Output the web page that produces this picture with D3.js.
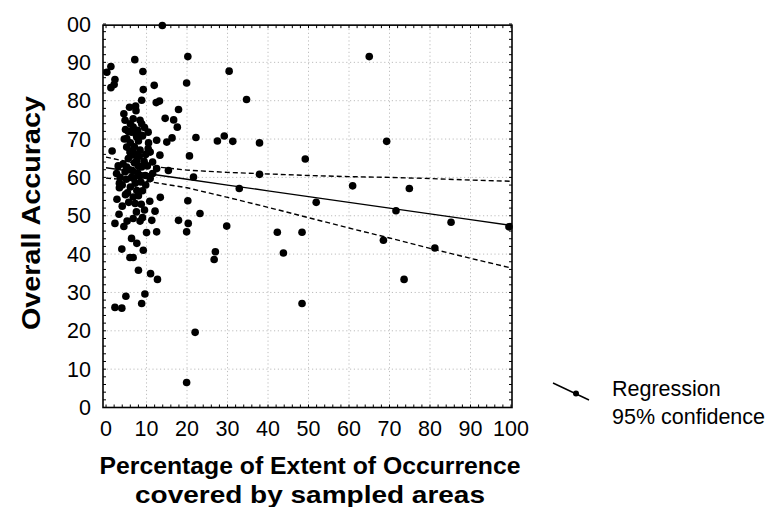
<!DOCTYPE html>
<html><head><meta charset="utf-8">
<script src="https://cdn.jsdelivr.net/npm/d3@7"></script>
<style>
html,body{margin:0;padding:0;background:#fff;}
svg{display:block;font-family:"Liberation Sans",Arial,sans-serif;}
</style></head>
<body>
<svg id="chart" width="766" height="507"></svg>
<script>
// ---- data ----
const pctCovered = [
 0.2,1.2,2.2,2.0,1.2,7.1,9.1,9.2,11.9,8.8,12.4,13.2,17.9,19.9,20.2,13.9,
 4.4,5.8,7.3,7.4,4.7,6.7,8.4,6.7,8.8,14.6,16.7,17.6,
 6.3,10.4,5.1,7.6,12.5,15.0,16.3,22.2,
 1.5,5.1,5.9,8.4,10.4,10.9,13.3,20.6,5.5,7.6,5.1,8.8,2.6,12.5,15.4,21.6,
 6.0,7.0,8.0,9.0,4.8,7.8,9.5,6.2,7.0,8.2,9.4,6.5,7.8,4.2,10.2,11.5,3.5,5.0,6.8,8.6,10.9,9.7,4.0,6.0,7.6,9.0,5.3,8.0,3.3,3.3,6.7,2.7,7.2,10.8,13.4,12.1,20.2,
 4.5,5.5,6.0,7.5,8.8,6.5,7.3,8.0,5.8,6.3,7.2,8.3,4.7,9.8,5.6,4.8,8.7,9.5,7.5,4.0,3.0,10.5,11.5,9.8,
 3.2,2.2,4.4,5.2,6.7,8.4,9.0,11.3,10.0,12.5,6.3,7.6,9.2,3.9,5.9,6.7,8.0,11.0,12.7,4.9,9.6,2.2,3.9,8.8,19.9,22.0,
 17.9,19.9,20.3,23.2,29.8,30.4,34.7,27.5,29.2,31.3,37.9,49.2,37.9,32.9,42.3,48.4,43.8,27.0,26.7,48.4,51.9,
 65.0,69.3,60.9,74.9,71.6,85.2,99.5,68.5,81.2,73.6
];
const overallAccuracy = [
 87.4,88.9,85.5,84.2,83.4,90.7,87.6,82.9,84.0,80.1,79.5,79.9,77.7,84.6,91.5,99.6,
 76.6,78.3,78.6,77.4,74.9,75.3,74.9,73.1,74.0,75.4,75.0,73.1,
 71.8,71.8,70.1,70.5,69.7,69.2,70.3,70.4,
 66.9,67.9,66.6,67.1,67.5,66.6,65.8,65.6,64.9,64.5,62.7,62.7,61.0,62.3,61.8,60.1,
 69.0,68.0,69.5,70.8,72.5,72.3,73.0,65.8,63.8,65.5,64.2,61.8,61.2,63.5,63.0,61.0,60.0,59.5,59.8,58.8,59.7,60.5,58.0,57.5,56.6,56.5,56.0,55.2,58.5,57.3,54.9,54.3,53.2,53.8,54.8,51.2,53.9,
 70.0,72.0,74.0,71.0,71.0,67.0,66.0,63.0,62.0,60.0,58.5,60.3,61.5,58.0,53.5,55.5,53.0,51.5,51.0,52.5,63.0,69.0,64.0,66.0,
 50.4,48.0,47.2,48.6,49.3,48.6,49.5,48.8,45.6,45.8,44.1,42.8,41.0,41.3,39.1,39.1,35.8,34.9,33.4,29.0,29.6,26.1,25.9,27.1,6.5,19.6,
 48.8,45.8,48.0,50.6,47.3,87.7,80.3,69.5,70.8,69.4,69.0,64.8,60.8,57.1,45.7,45.7,40.3,40.6,38.6,27.1,53.5,
 91.5,69.4,57.8,57.1,51.3,48.3,47.1,43.6,41.6,33.4
];
const regX     = [0,10,20,30,40,50,60,70,80,90,100];
const regFit   = [62.5,61.0,59.5,58.0,56.5,55.0,53.5,52.0,50.5,49.0,47.5];
const regUpper = [65.3,63.0,61.9,61.3,60.9,60.5,60.2,60.0,59.7,59.3,59.0];
const regLower = [59.8,59.0,57.3,54.8,52.2,49.5,46.8,44.2,41.5,38.9,36.4];
const xTickValues = [0,10,20,30,40,50,60,70,80,90,100];
const xTickLabels = ["0","10","20","30","40","50","60","70","80","90","100"];
const yTickValues = [0,10,20,30,40,50,60,70,80,90,100];
const yTickLabels = ["0","10","20","30","40","50","60","70","80","90","00"];
const legendLabels = ["Regression","95% confidence"];
const xTitle = ["Percentage of Extent of Occurrence","covered by sampled areas"];
const yTitle = "Overall Accuracy";

// ---- drawing ----
const svg = d3.select("#chart");
const x = d3.scaleLinear().domain([-0.75,100.25]).range([103,512]);
const y = d3.scaleLinear().domain([0,100]).range([407.5,24]);
const L = x(-0.75), R = x(100.25), T = y(99.7), B = y(0);

// grid
const grid = svg.append("g").attr("stroke","#bdbdbd").attr("stroke-width",1).attr("stroke-dasharray","1.2,2.6");
grid.selectAll("line.gx").data(xTickValues.filter(v=>v>0&&v<100)).join("line")
  .attr("x1",d=>x(d)).attr("x2",d=>x(d)).attr("y1",T).attr("y2",B);
grid.selectAll("line.gy").data(yTickValues.filter(v=>v>0&&v<100)).join("line")
  .attr("y1",d=>y(d)).attr("y2",d=>y(d)).attr("x1",L).attr("x2",R);

// minor ticks (inward) on all sides
const minor = d3.range(0,101,2);
const tk = svg.append("g").attr("stroke","#000").attr("stroke-width",1);
tk.selectAll("line.bt").data(minor).join("line").attr("x1",d=>x(d)).attr("x2",d=>x(d)).attr("y1",B).attr("y2",B-3);
tk.selectAll("line.tt").data(minor).join("line").attr("x1",d=>x(d)).attr("x2",d=>x(d)).attr("y1",T).attr("y2",T+3);
tk.selectAll("line.lt").data(minor).join("line").attr("y1",d=>y(d)).attr("y2",d=>y(d)).attr("x1",L).attr("x2",L+3);
tk.selectAll("line.rt").data(minor).join("line").attr("y1",d=>y(d)).attr("y2",d=>y(d)).attr("x1",R).attr("x2",R-3);

// regression lines
const line = d3.line().x((d,i)=>x(regX[i])).y(d=>y(d));
svg.append("path").attr("d",line(regFit)).attr("fill","none").attr("stroke","#000").attr("stroke-width",1.4);
svg.append("path").attr("d",line(regUpper)).attr("fill","none").attr("stroke","#000").attr("stroke-width",1.4).attr("stroke-dasharray","5,3");
svg.append("path").attr("d",line(regLower)).attr("fill","none").attr("stroke","#000").attr("stroke-width",1.4).attr("stroke-dasharray","5,3");

// points
svg.append("g").selectAll("circle").data(pctCovered).join("circle")
  .attr("cx",d=>x(d)).attr("cy",(d,i)=>y(overallAccuracy[i])).attr("r",3.8).attr("fill","#000");

// frame
svg.append("rect").attr("x",L).attr("y",T).attr("width",R-L).attr("height",B-T)
  .attr("fill","none").attr("stroke","#000").attr("stroke-width",1.6);

// tick labels
svg.append("g").selectAll("text").data(xTickValues).join("text")
  .attr("x",d=>x(d)).attr("y",436).attr("text-anchor","middle")
  .attr("font-size",21.5).text((d,i)=>xTickLabels[i]);
svg.append("g").selectAll("text").data(yTickValues).join("text")
  .attr("x",91).attr("y",d=>y(d)+7.5).attr("text-anchor","end")
  .attr("font-size",21.5).text((d,i)=>yTickLabels[i]);

// axis titles
svg.append("text").attr("x",310).attr("y",474).attr("text-anchor","middle")
  .attr("font-size",24).attr("font-weight","bold")
  .attr("textLength",421).attr("lengthAdjust","spacingAndGlyphs").text(xTitle[0]);
svg.append("text").attr("x",310).attr("y",503).attr("text-anchor","middle")
  .attr("font-size",24).attr("font-weight","bold")
  .attr("textLength",350).attr("lengthAdjust","spacingAndGlyphs").text(xTitle[1]);
svg.append("text").attr("transform","translate(40,213) rotate(-90)").attr("text-anchor","middle")
  .attr("font-size",25).attr("font-weight","bold")
  .attr("textLength",234).attr("lengthAdjust","spacingAndGlyphs").text(yTitle);

// legend
const lg = svg.append("g");
lg.append("line").attr("x1",553).attr("y1",383).attr("x2",589).attr("y2",400).attr("stroke","#000").attr("stroke-width",1.4);
lg.append("circle").attr("cx",576).attr("cy",393.5).attr("r",3).attr("fill","#000");
lg.append("text").attr("x",612).attr("y",395.5).attr("font-size",21.5).text(legendLabels[0]);
lg.append("text").attr("x",612).attr("y",424).attr("font-size",21.5).text(legendLabels[1]);
</script>
</body></html>
